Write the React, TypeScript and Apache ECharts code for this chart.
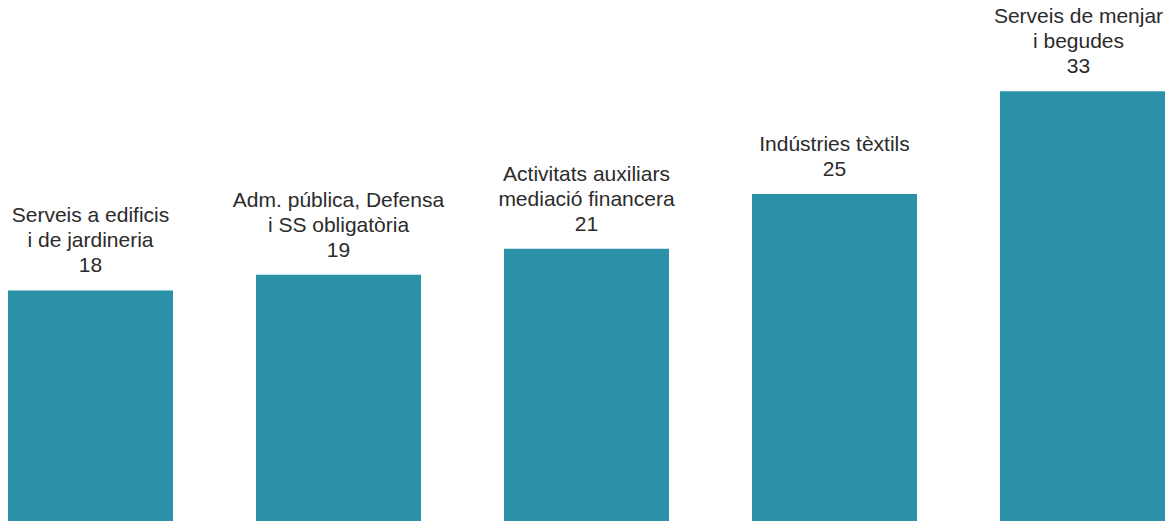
import React, { useEffect, useRef } from "react";
import * as echarts from "echarts";

const categories = [
  "Serveis a edificis\ni de jardineria",
  "Adm. pública, Defensa\ni SS obligatòria",
  "Activitats auxiliars\nmediació financera",
  "Indústries tèxtils",
  "Serveis de menjar\ni begudes",
];
const values = [17.7, 18.9, 20.9, 25.1, 33.0];

export default function App() {
  const ref = useRef<HTMLDivElement>(null);
  useEffect(() => {
    if (!ref.current) return;
    const chart = echarts.init(ref.current, null, { renderer: "svg" });
    const seriesData = values.map((v, i) =>
      i === values.length - 1 ? { value: v, label: { offset: [-4, 0] } } : v
    );
    chart.setOption({
      animation: false,
      grid: { left: 90.5, right: 83.5, top: 0, bottom: 0, containLabel: false },
      xAxis: {
        type: "category",
        data: categories,
        boundaryGap: false,
        show: false,
      },
      yAxis: { type: "value", min: 0, max: 40, show: false },
      series: [
        {
          type: "bar",
          data: seriesData,
          barWidth: 165,
          clip: false,
          itemStyle: { color: "#2A91A6" },
          label: {
            show: true,
            position: "top",
            distance: 13,
            fontFamily: "Liberation Sans, Arial, sans-serif",
            fontSize: 21,
            lineHeight: 25,
            color: "#2b2b2b",
            align: "center",
            formatter: (p: any) => `${p.name}\n${Math.round(p.value)}`,
          },
        },
      ],
    });
    return () => chart.dispose();
  }, []);
  return (
    <div
      ref={ref}
      style={{ position: "absolute", left: 0, top: 0, width: 1166, height: 521 }}
    />
  );
}
